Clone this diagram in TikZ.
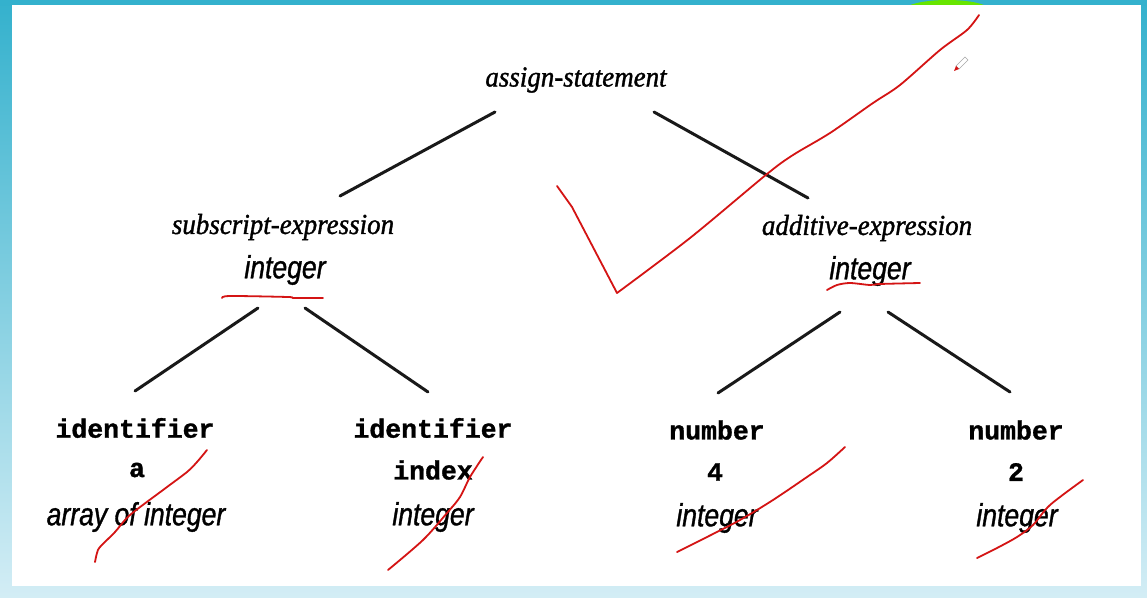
\documentclass[tikz,border=0pt]{standalone}
\usepackage{fontspec}
\usetikzlibrary{calc}
\newfontfamily\catfont[FakeStretch=0.93,FakeBold=1.2]{Liberation Serif}
\newfontfamily\typefont[FakeStretch=0.83,FakeBold=1]{Liberation Sans}
\newfontfamily\tokfont[FakeBold=1.2]{Liberation Mono}
\definecolor{slidetop}{HTML}{34B1CD}
\definecolor{slidebot}{HTML}{D3EDF5}
\definecolor{inkred}{HTML}{D41414}
\tikzset{
  cat/.style={font=\catfont\itshape\fontsize{29}{32}\selectfont, inner sep=0pt},
  typ/.style={font=\typefont\itshape\fontsize{32}{34}\selectfont, inner sep=0pt},
  tok/.style={font=\tokfont\bfseries\fontsize{26.5}{30}\selectfont, inner sep=0pt},
  edge/.style={line width=3pt, line cap=round, black!90},
  pen/.style={inkred, line width=1.8pt, line cap=round, line join=round}
}
\begin{document}
\begin{tikzpicture}[x=1pt, y=-1pt]
\useasboundingbox (0,0) rectangle (1147,597);
% slide frame
\shade[top color=slidetop, bottom color=slidebot] (0,0) rectangle (1147,597);
\fill[slidetop] (0,0) rectangle (1147,6);
\fill[green!55!yellow!90!black] (908,6) .. controls (925,-2) and (970,-2) .. (986,6) -- cycle;
\fill[white] (12,5) rectangle (1141,586);

% tree
\node[cat] (root) at (576,80) {assign-statement};
\node[cat] (sub) at (283,227) {subscript-expression};
\node[typ] (subint) at (285,270) {integer};
\node[cat] (add) at (867,228) {additive-expression};
\node[typ] (addint) at (870,271) {integer};

\node[tok] (idA) at (135,428) {identifier};
\node[tok] (valA) at (137,470) {a};
\node[typ] (typA) at (136,517) {array of integer};
\node[tok] (idB) at (433,428) {identifier};
\node[tok] (valB) at (433,470) {index};
\node[typ] (typB) at (433,517) {integer};
\node[tok] (numC) at (717,430) {number};
\node[tok] (valC) at (715,472) {4};
\node[typ] (typC) at (717,518) {integer};
\node[tok] (numD) at (1016,430) {number};
\node[tok] (valD) at (1016,472) {2};
\node[typ] (typD) at (1017,518) {integer};

\draw[edge] ($(root)+(-81,32)$) -- ($(sub)+(57,-31)$);
\draw[edge] ($(root)+(78,32)$) -- ($(add)+(-59,-30)$);
\draw[edge] ($(subint)+(-27,38)$) -- ($(idA)+(0,-37)$);
\draw[edge] ($(subint)+(20,38)$) -- ($(idB)+(-5,-36)$);
\draw[edge] ($(addint)+(-30,41)$) -- ($(numC)+(1,-37)$);
\draw[edge] ($(addint)+(18,41)$) -- ($(numD)+(-6,-38)$);

% red pen marks
\draw[pen] (557,186) -- (572,207) -- (617,293);
\draw[pen] plot[smooth, tension=.5] coordinates {(617,293) (690,238) (767,174) (793,155) (830,133) (873,103) (900,85) (940,50) (967,30) (979,15)};
\draw[pen] plot[smooth, tension=.5] coordinates {(222,298) (230,296) (288,297) (294,298) (323,298)};
\draw[pen] plot[smooth, tension=.5] coordinates {(827,290) (837,285) (850,283) (870,285) (880,284) (920,283)};
\draw[pen] plot[smooth, tension=.5] coordinates {(95,562) (97,553) (100,547) (115,532) (130,515) (163,490) (187,472) (197,462) (207,450)};
\draw[pen] plot[smooth, tension=.5] coordinates {(388,570) (423,540) (447,513) (460,497) (470,477) (483,457)};
\draw[pen] plot[smooth, tension=.5] coordinates {(677,552) (707,537) (740,520) (773,500) (807,477) (827,463) (845,447)};
\draw[pen] plot[smooth, tension=.5] coordinates {(977,558) (997,548) (1017,537) (1033,525) (1050,505) (1083,480)};

% pen cursor
\draw[gray!70, fill=white, line width=.6pt] (956,66) -- (965,57) -- (968,60) -- (959,69) -- cycle;
\fill[inkred] (954,71) -- (956,66) -- (959,69) -- cycle;
\end{tikzpicture}
\end{document}
